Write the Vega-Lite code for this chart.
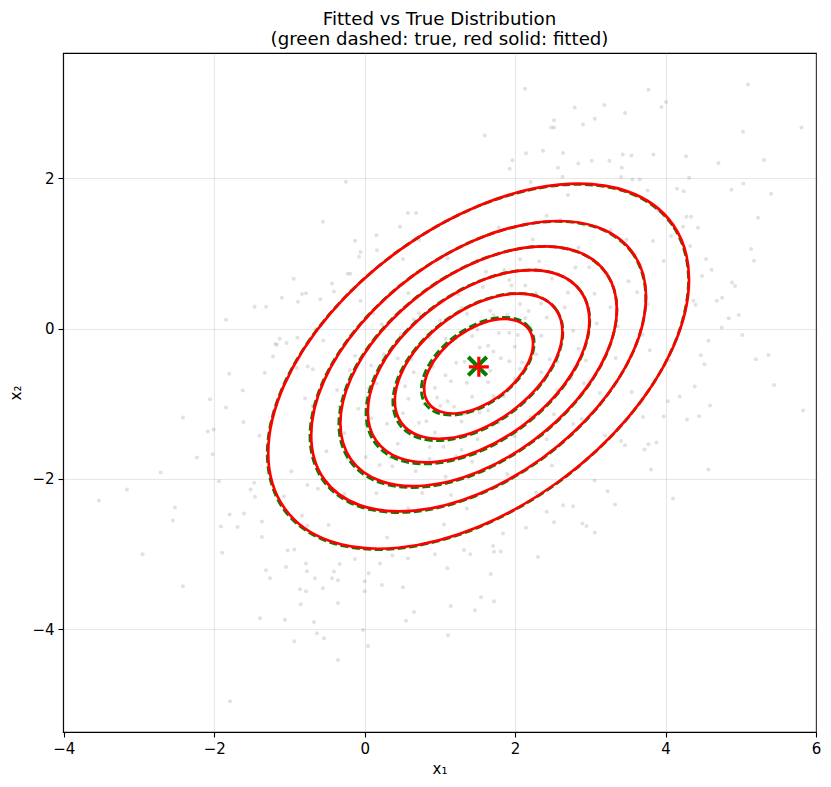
{
  "$schema": "https://vega.github.io/schema/vega-lite/v6.json",
  "width": 753,
  "height": 679,
  "autosize": {"type": "none"},
  "padding": {"left": 63, "top": 53, "right": 15, "bottom": 55},
  "background": "white",
  "config": {
    "view": {"stroke": "black", "strokeWidth": 1.1},
    "font": "DejaVu Sans",
    "axis": {
      "labelFont": "DejaVu Sans", "labelFontSize": 15, "labelColor": "black",
      "tickColor": "black", "tickSize": 5, "tickWidth": 1.1, "labelPadding": 4,
      "titleFont": "DejaVu Sans", "titleFontSize": 15, "titleFontWeight": "normal", "titleColor": "black",
      "domain": false, "grid": true, "gridColor": "#b0b0b0", "gridOpacity": 0.3, "gridWidth": 1.1,
      "labelFlush": false, "labelOverlap": false
    }
  },
  "title": {
    "text": ["Fitted vs True Distribution", "(green dashed: true, red solid: fitted)"],
    "font": "DejaVu Sans", "fontSize": 18.2, "fontWeight": "normal", "color": "black",
    "anchor": "middle", "lineHeight": 20, "offset": 4
  },
  "datasets": {
    "samples": [
      {"x":-0.25,"y":1.955},{"x":-0.555,"y":1.423},{"x":0.576,"y":1.54},{"x":0.683,"y":1.54},{"x":0.47,"y":1.356},{"x":0.155,"y":1.245},{"x":-0.128,"y":1.17},{"x":0.164,"y":1.045},{"x":-0.075,"y":0.957},{"x":-0.226,"y":0.731},{"x":-0.19,"y":0.731},{"x":-0.944,"y":0.665},{"x":-0.434,"y":0.602},{"x":-0.834,"y":0.46},{"x":-0.78,"y":0.47},{"x":-1.1,"y":0.412},{"x":-0.59,"y":0.393},{"x":-0.887,"y":0.359},{"x":-1.463,"y":0.293},{"x":-1.31,"y":0.293},{"x":-1.844,"y":0.12},{"x":-1.13,"y":-0.133},{"x":-1.166,"y":-0.213},{"x":-1.04,"y":-0.19},{"x":-1.219,"y":-0.372},{"x":-0.895,"y":-0.12},{"x":-1.8,"y":-0.6},{"x":-1.62,"y":-0.824},{"x":-0.758,"y":-0.505},{"x":-0.69,"y":-0.54},
      {"x":2.132,"y":3.195},{"x":3.772,"y":3.182},{"x":5.097,"y":3.249},{"x":4.007,"y":3.019},{"x":3.945,"y":2.952},{"x":2.793,"y":2.943},{"x":3.187,"y":2.979},{"x":3.462,"y":2.872},{"x":3.059,"y":2.793},{"x":2.903,"y":2.717},{"x":2.518,"y":2.774},{"x":2.518,"y":2.677},{"x":2.48,"y":2.677},{"x":1.596,"y":2.571},{"x":5.03,"y":2.62},{"x":5.807,"y":2.677},{"x":2.145,"y":2.335},{"x":2.371,"y":2.367},{"x":2.637,"y":2.34},{"x":3.019,"y":2.234},{"x":3.254,"y":2.234},{"x":3.431,"y":2.318},{"x":3.546,"y":2.304},{"x":3.839,"y":2.318},{"x":4.273,"y":2.295},{"x":4.703,"y":2.207},{"x":5.31,"y":2.247},{"x":1.964,"y":2.242},{"x":1.928,"y":2.13},{"x":2.571,"y":2.141},{"x":2.841,"y":2.198},{"x":3.418,"y":2.141},{"x":3.56,"y":1.985},{"x":3.657,"y":1.985},{"x":4.313,"y":2.008},{"x":4.242,"y":1.83},{"x":4.153,"y":1.862},{"x":4.876,"y":1.848},{"x":5.403,"y":1.795},{"x":5.23,"y":1.476},{"x":4.432,"y":1.343},{"x":4.233,"y":1.356},{"x":4.278,"y":1.489},{"x":4.34,"y":1.489},{"x":5.137,"y":1.059},{"x":5.177,"y":0.904},{"x":4.539,"y":0.926},{"x":4.884,"y":0.616},{"x":4.924,"y":0.567},{"x":4.681,"y":0.372},{"x":4.485,"y":0.7},{"x":4.371,"y":0.372},{"x":4.84,"y":0.137},{"x":4.973,"y":0.181},{"x":4.747,"y":0.017},{"x":4.57,"y":-0.16},{"x":5.02,"y":-0.085},{"x":5.2,"y":-0.408},{"x":5.368,"y":-0.35},{"x":4.517,"y":-0.475},{"x":4.388,"y":-0.771},{"x":5.443,"y":-0.75},
      {"x":-2.057,"y":-0.94},{"x":-1.844,"y":-1.05},{"x":-2.416,"y":-1.184},{"x":-2.084,"y":-1.37},{"x":-2.008,"y":-1.343},{"x":-2.23,"y":-1.715},{"x":-2.021,"y":-1.672},{"x":-2.713,"y":-1.915},{"x":-3.16,"y":-2.141},{"x":-3.533,"y":-2.287},{"x":-2.523,"y":-2.38},{"x":-2.549,"y":-2.553},{"x":-2.952,"y":-3.005},{"x":-2.416,"y":-3.431},{"x":-1.937,"y":-2.03},{"x":-1.91,"y":-2.633},{"x":-1.795,"y":-2.473},{"x":-1.689,"y":-2.642},{"x":-1.605,"y":-2.46},{"x":-1.516,"y":-2.141},{"x":-1.458,"y":-2.239},{"x":-1.366,"y":-2.566},{"x":-1.366,"y":-2.775},{"x":-1.312,"y":-3.218},{"x":-1.259,"y":-3.324},{"x":-1.392,"y":-3.856},{"x":-1.06,"y":-3.875},{"x":-0.86,"y":-3.471},{"x":-0.78,"y":-3.497},{"x":-0.935,"y":-4.162},{"x":-0.674,"y":-3.906},{"x":-0.634,"y":-4.056},{"x":-0.541,"y":-4.122},{"x":-0.355,"y":-3.653},{"x":-0.355,"y":-4.411},{"x":-0.434,"y":-3.324},{"x":-0.355,"y":-3.351},{"x":-0.555,"y":-3.457},{"x":-0.661,"y":-3.324},{"x":-0.767,"y":-3.231},{"x":-0.78,"y":-3.125},{"x":-1.024,"y":-2.952},{"x":-0.935,"y":-2.939},{"x":-1.791,"y":-4.96},{"x":0.0,"y":-3.364},{"x":0.0,"y":-3.497},{"x":-0.022,"y":-4.012},{"x":0.044,"y":-4.225},{"x":0.204,"y":-3.125},{"x":0.053,"y":-3.258},{"x":0.23,"y":-3.414},{"x":0.509,"y":-3.444},{"x":0.656,"y":-3.773},{"x":0.549,"y":-3.888},{"x":0.576,"y":-3.059},{"x":-0.129,"y":-3.068},{"x":-0.332,"y":-3.134},{"x":-0.85,"y":-3.67},
      {"x":4.033,"y":-0.967},{"x":4.592,"y":-1.024},{"x":5.829,"y":-1.09},{"x":4.286,"y":-1.21},{"x":4.446,"y":-1.166},{"x":3.976,"y":-1.17},{"x":3.879,"y":-1.516},{"x":3.773,"y":-1.539},{"x":3.72,"y":-1.609},{"x":3.807,"y":-1.875},{"x":4.57,"y":-1.875},{"x":4.1,"y":-2.261},{"x":3.461,"y":-1.552},{"x":3.7,"y":-1.175},{"x":3.231,"y":-2.164},{"x":3.329,"y":-2.34},{"x":3.059,"y":-2.713},{"x":2.895,"y":-2.593},{"x":2.948,"y":-2.629},{"x":2.77,"y":-2.363},{"x":2.637,"y":-2.35},{"x":2.518,"y":-2.576},{"x":2.305,"y":-3.041},{"x":2.145,"y":-2.651},{"x":1.809,"y":-2.966},{"x":1.72,"y":-2.97},{"x":1.707,"y":-2.895},{"x":1.676,"y":-3.267},{"x":1.321,"y":-2.948},{"x":1.405,"y":-3.005},{"x":1.1,"y":-3.191},{"x":1.547,"y":-3.577},{"x":1.72,"y":-3.63},{"x":1.467,"y":-3.75},{"x":1.144,"y":-3.693},{"x":1.108,"y":-4.082},{"x":1.839,"y":-2.726},{"x":2.42,"y":-2.439},{"x":1.055,"y":-2.606},
      {"x":1.641,"y":-0.226},{"x":1.076,"y":-0.134},{"x":2.348,"y":-0.582},{"x":0.51,"y":-1.125},{"x":3.055,"y":0.466},{"x":-0.197,"y":-0.552},{"x":2.066,"y":0.923},{"x":1.217,"y":-1.698},{"x":2.773,"y":-1.271},{"x":0.227,"y":0.055},{"x":3.762,"y":0.326},{"x":-0.621,"y":-2.133},{"x":1.571,"y":-0.579},{"x":1.924,"y":-0.433},{"x":0.793,"y":-0.684},{"x":2.49,"y":0.666},{"x":0.934,"y":-1.383},{"x":3.338,"y":-0.39},{"x":0.086,"y":-1.192},{"x":1.783,"y":1.347},{"x":1.359,"y":-2.396},{"x":4.328,"y":1.1},{"x":-1.469,"y":-2.05},{"x":2.631,"y":0.075},{"x":0.652,"y":0.123},{"x":2.207,"y":-1.181},{"x":0.369,"y":-1.832},{"x":2.914,"y":1.381},{"x":-0.338,"y":-1.043},{"x":3.48,"y":1.183},
      {"x":1.429,"y":-0.097},{"x":1.854,"y":-0.895},{"x":1.005,"y":-1.028},{"x":2.136,"y":0.141},{"x":1.288,"y":0.277},{"x":1.712,"y":-1.817},{"x":4.045,"y":-0.422},{"x":-0.904,"y":-0.52},{"x":2.419,"y":1.502},{"x":0.581,"y":-2.393},{"x":3.197,"y":-1.421},{"x":-0.055,"y":0.371},{"x":1.995,"y":-0.242},{"x":1.147,"y":-0.7},{"x":2.278,"y":0.47},{"x":0.864,"y":-1.736},{"x":2.843,"y":-0.269},{"x":0.157,"y":-0.731},{"x":3.621,"y":0.484},{"x":-0.48,"y":-2.615},{"x":1.641,"y":-1.091},{"x":1.359,"y":0.199},{"x":2.561,"y":-0.819},{"x":0.44,"y":-0.397},{"x":1.783,"y":-0.059},{"x":0.722,"y":-1.253},{"x":2.985,"y":0.816},{"x":0.015,"y":-1.708},{"x":1.5,"y":0.905},{"x":1.5,"y":-1.473},
      {"x":4.752,"y":0.411},{"x":-1.611,"y":-1.244},{"x":2.207,"y":1.954},{"x":0.934,"y":-3.004},{"x":3.904,"y":1.574},{"x":-0.762,"y":-2.623},{"x":4.187,"y":-0.903},{"x":-1.187,"y":-0.205},{"x":1.924,"y":0.648},{"x":1.076,"y":-1.972},{"x":2.702,"y":0.482},{"x":0.298,"y":-1.266},{"x":2.066,"y":-0.536},{"x":1.217,"y":-0.455},{"x":1.712,"y":0.183},{"x":0.652,"y":-0.58},{"x":2.348,"y":-0.096},{"x":1.429,"y":-0.907},{"x":3.268,"y":0.284},{"x":-0.268,"y":-1.392},{"x":2.49,"y":-1.821},{"x":0.51,"y":0.929},{"x":3.409,"y":2.018},{"x":-0.409,"y":-3.234},{"x":2.773,"y":-0.028},{"x":0.864,"y":-0.114},{"x":1.641,"y":-0.712},{"x":1.288,"y":-1.237},{"x":2.278,"y":-0.341},{"x":1.005,"y":-0.326},
      {"x":5.035,"y":1.933},{"x":-1.894,"y":-2.983},{"x":3.055,"y":-2.02},{"x":-0.055,"y":1.02},{"x":1.854,"y":0.781},{"x":1.147,"y":-2.213},{"x":3.692,"y":-0.081},{"x":-0.692,"y":-1.027},{"x":2.631,"y":2.021},{"x":0.369,"y":-3.021},{"x":2.136,"y":-0.94},{"x":0.722,"y":0.206},{"x":3.126,"y":-0.855},{"x":-0.126,"y":-0.361},{"x":1.571,"y":0.556},{"x":1.429,"y":-1.772},{"x":1.995,"y":-1.431},{"x":1.005,"y":0.647},{"x":3.55,"y":-0.842},{"x":-0.55,"y":-0.158},{"x":2.419,"y":0.15},{"x":0.581,"y":-0.934},{"x":1.783,"y":-1.248},{"x":1.217,"y":-0.131},{"x":3.975,"y":0.9},{"x":-0.975,"y":-1.9},{"x":4.469,"y":-0.355},{"x":-1.328,"y":-0.587},{"x":2.843,"y":1.082},{"x":0.157,"y":-2.19},
      {"x":3.268,"y":1.311},{"x":-0.268,"y":-2.203},{"x":2.066,"y":0.329},{"x":0.934,"y":-0.788},{"x":2.561,"y":-0.44},{"x":0.44,"y":-1.533},{"x":1.5,"y":-0.014},{"x":1.924,"y":-0.055},{"x":1.359,"y":-0.72},{"x":2.207,"y":0.008},{"x":0.793,"y":-1.008},{"x":1.712,"y":-0.898},{"x":1.076,"y":-0.621},{"x":2.348,"y":0.336},{"x":2.914,"y":-0.727},{"x":0.086,"y":-0.489},{"x":3.762,"y":1.839},{"x":-0.762,"y":-2.083},{"x":4.611,"y":0.785},{"x":-1.045,"y":-3.173},
      {"x":1.67,"y":0.24},{"x":1.189,"y":-1.039},{"x":2.094,"y":-0.45},{"x":0.623,"y":-0.408},{"x":2.659,"y":0.282},{"x":0.341,"y":-1.714},{"x":1.952,"y":0.573},{"x":1.048,"y":-1.573},{"x":2.942,"y":-0.423},{"x":0.058,"y":-0.793},{"x":1.528,"y":-1.115},{"x":1.811,"y":-0.394},{"x":0.906,"y":-0.507},{"x":2.518,"y":-1.139},{"x":0.482,"y":-0.077},{"x":3.225,"y":0.731},{"x":-0.225,"y":-1.731},{"x":2.235,"y":1.188},{"x":0.765,"y":-2.188},{"x":3.791,"y":-0.289},
      {"x":-0.791,"y":-0.927},{"x":1.613,"y":0.758},{"x":1.387,"y":-1.974},{"x":2.377,"y":-0.7},{"x":1.245,"y":0.454},{"x":1.755,"y":-1.238},{"x":2.801,"y":0.815},{"x":0.199,"y":-1.815},{"x":3.366,"y":0.033},{"x":-0.366,"y":-0.817},{"x":2.037,"y":-0.083},{"x":0.963,"y":-0.917},{"x":2.32,"y":0.898},{"x":0.68,"y":-1.898},{"x":1.896,"y":-1.936},{"x":1.104,"y":0.936},{"x":3.084,"y":0.068},{"x":-0.084,"y":-1.068},{"x":2.179,"y":0.234},{"x":0.821,"y":-1.234},
      {"x":2.744,"y":-0.656},{"x":0.256,"y":-0.344},{"x":3.508,"y":0.632},{"x":-0.508,"y":-1.632},{"x":1.528,"y":-0.25},{"x":1.33,"y":-1.132},{"x":2.462,"y":-0.406},{"x":0.538,"y":-0.767},{"x":1.896,"y":0.183},{"x":1.104,"y":-0.967},{"x":4.073,"y":1.233},{"x":-1.073,"y":-2.233},{"x":3.649,"y":-0.996},{"x":-0.649,"y":-0.004},{"x":2.603,"y":1.448},{"x":0.397,"y":-2.448},{"x":2.886,"y":-1.204},{"x":0.114,"y":0.204},{"x":1.67,"y":-0.56},{"x":1.33,"y":-0.44},
      {"x":2.136,"y":0.574},{"x":0.864,"y":-1.574},{"x":2.985,"y":0.275},{"x":0.015,"y":-1.275},{"x":2.419,"y":-1.471},{"x":0.581,"y":0.471},{"x":1.995,"y":-0.674},{"x":1.005,"y":0.107},{"x":1.712,"y":-0.304},{"x":1.288,"y":-1.615},{"x":3.833,"y":1.167},{"x":-0.833,"y":-2.491},{"x":4.399,"y":0.319},{"x":-1.399,"y":-1.427},{"x":2.702,"y":1.78},{"x":0.298,"y":-2.78},{"x":2.278,"y":-2.179},{"x":0.722,"y":1.179},{"x":3.409,"y":-1.496},{"x":-0.409,"y":0.496}
    ],
    "trueContours": [
      {"ring":1,"k":0,"x":4.305,"y":0.646},{"ring":1,"k":1,"x":4.092,"y":1.377},{"ring":1,"k":2,"x":3.485,"y":1.82},{"ring":1,"k":3,"x":2.577,"y":1.909},{"ring":1,"k":4,"x":1.505,"y":1.629},{"ring":1,"k":5,"x":0.433,"y":1.024},{"ring":1,"k":6,"x":-0.475,"y":0.185},{"ring":1,"k":7,"x":-1.082,"y":-0.76},{"ring":1,"k":8,"x":-1.295,"y":-1.666},{"ring":1,"k":9,"x":-1.082,"y":-2.397},{"ring":1,"k":10,"x":-0.475,"y":-2.84},{"ring":1,"k":11,"x":0.433,"y":-2.929},{"ring":1,"k":12,"x":1.505,"y":-2.649},{"ring":1,"k":13,"x":2.577,"y":-2.044},{"ring":1,"k":14,"x":3.485,"y":-1.205},{"ring":1,"k":15,"x":4.092,"y":-0.26},
      {"ring":2,"k":0,"x":3.737,"y":0.412},{"ring":2,"k":1,"x":3.567,"y":0.994},{"ring":2,"k":2,"x":3.083,"y":1.348},{"ring":2,"k":3,"x":2.359,"y":1.418},{"ring":2,"k":4,"x":1.505,"y":1.195},{"ring":2,"k":5,"x":0.651,"y":0.713},{"ring":2,"k":6,"x":-0.073,"y":0.044},{"ring":2,"k":7,"x":-0.557,"y":-0.709},{"ring":2,"k":8,"x":-0.727,"y":-1.432},{"ring":2,"k":9,"x":-0.557,"y":-2.014},{"ring":2,"k":10,"x":-0.073,"y":-2.368},{"ring":2,"k":11,"x":0.651,"y":-2.438},{"ring":2,"k":12,"x":1.505,"y":-2.215},{"ring":2,"k":13,"x":2.359,"y":-1.733},{"ring":2,"k":14,"x":3.083,"y":-1.064},{"ring":2,"k":15,"x":3.567,"y":-0.311},
      {"ring":3,"k":0,"x":3.353,"y":0.253},{"ring":3,"k":1,"x":3.212,"y":0.736},{"ring":3,"k":2,"x":2.812,"y":1.028},{"ring":3,"k":3,"x":2.212,"y":1.087},{"ring":3,"k":4,"x":1.505,"y":0.902},{"ring":3,"k":5,"x":0.798,"y":0.502},{"ring":3,"k":6,"x":0.198,"y":-0.051},{"ring":3,"k":7,"x":-0.202,"y":-0.675},{"ring":3,"k":8,"x":-0.343,"y":-1.273},{"ring":3,"k":9,"x":-0.202,"y":-1.756},{"ring":3,"k":10,"x":0.198,"y":-2.048},{"ring":3,"k":11,"x":0.798,"y":-2.107},{"ring":3,"k":12,"x":1.505,"y":-1.922},{"ring":3,"k":13,"x":2.212,"y":-1.522},{"ring":3,"k":14,"x":2.812,"y":-0.969},{"ring":3,"k":15,"x":3.212,"y":-0.345},
      {"ring":4,"k":0,"x":2.992,"y":0.104},{"ring":4,"k":1,"x":2.879,"y":0.492},{"ring":4,"k":2,"x":2.556,"y":0.728},{"ring":4,"k":3,"x":2.074,"y":0.775},{"ring":4,"k":4,"x":1.505,"y":0.626},{"ring":4,"k":5,"x":0.936,"y":0.305},{"ring":4,"k":6,"x":0.454,"y":-0.141},{"ring":4,"k":7,"x":0.131,"y":-0.643},{"ring":4,"k":8,"x":0.018,"y":-1.124},{"ring":4,"k":9,"x":0.131,"y":-1.512},{"ring":4,"k":10,"x":0.454,"y":-1.748},{"ring":4,"k":11,"x":0.936,"y":-1.795},{"ring":4,"k":12,"x":1.505,"y":-1.646},{"ring":4,"k":13,"x":2.074,"y":-1.325},{"ring":4,"k":14,"x":2.556,"y":-0.879},{"ring":4,"k":15,"x":2.879,"y":-0.377},
      {"ring":5,"k":0,"x":2.635,"y":-0.043},{"ring":5,"k":1,"x":2.549,"y":0.252},{"ring":5,"k":2,"x":2.304,"y":0.431},{"ring":5,"k":3,"x":1.937,"y":0.466},{"ring":5,"k":4,"x":1.505,"y":0.353},{"ring":5,"k":5,"x":1.073,"y":0.109},{"ring":5,"k":6,"x":0.706,"y":-0.23},{"ring":5,"k":7,"x":0.461,"y":-0.611},{"ring":5,"k":8,"x":0.375,"y":-0.977},{"ring":5,"k":9,"x":0.461,"y":-1.272},{"ring":5,"k":10,"x":0.706,"y":-1.451},{"ring":5,"k":11,"x":1.073,"y":-1.486},{"ring":5,"k":12,"x":1.505,"y":-1.373},{"ring":5,"k":13,"x":1.937,"y":-1.129},{"ring":5,"k":14,"x":2.304,"y":-0.79},{"ring":5,"k":15,"x":2.549,"y":-0.409},
      {"ring":6,"k":0,"x":2.253,"y":-0.19},{"ring":6,"k":1,"x":2.196,"y":0.006},{"ring":6,"k":2,"x":2.033,"y":0.124},{"ring":6,"k":3,"x":1.79,"y":0.148},{"ring":6,"k":4,"x":1.503,"y":0.073},{"ring":6,"k":5,"x":1.216,"y":-0.089},{"ring":6,"k":6,"x":0.973,"y":-0.314},{"ring":6,"k":7,"x":0.81,"y":-0.567},{"ring":6,"k":8,"x":0.753,"y":-0.81},{"ring":6,"k":9,"x":0.81,"y":-1.006},{"ring":6,"k":10,"x":0.973,"y":-1.124},{"ring":6,"k":11,"x":1.216,"y":-1.148},{"ring":6,"k":12,"x":1.503,"y":-1.073},{"ring":6,"k":13,"x":1.79,"y":-0.911},{"ring":6,"k":14,"x":2.033,"y":-0.686},{"ring":6,"k":15,"x":2.196,"y":-0.433}
    ],
    "fittedContours": [
      {"ring":1,"k":0,"x":4.312,"y":0.655},{"ring":1,"k":1,"x":4.099,"y":1.385},{"ring":1,"k":2,"x":3.493,"y":1.828},{"ring":1,"k":3,"x":2.585,"y":1.917},{"ring":1,"k":4,"x":1.515,"y":1.637},{"ring":1,"k":5,"x":0.445,"y":1.032},{"ring":1,"k":6,"x":-0.463,"y":0.194},{"ring":1,"k":7,"x":-1.069,"y":-0.749},{"ring":1,"k":8,"x":-1.282,"y":-1.655},{"ring":1,"k":9,"x":-1.069,"y":-2.385},{"ring":1,"k":10,"x":-0.463,"y":-2.828},{"ring":1,"k":11,"x":0.445,"y":-2.917},{"ring":1,"k":12,"x":1.515,"y":-2.637},{"ring":1,"k":13,"x":2.585,"y":-2.032},{"ring":1,"k":14,"x":3.493,"y":-1.194},{"ring":1,"k":15,"x":4.099,"y":-0.251},
      {"ring":2,"k":0,"x":3.741,"y":0.419},{"ring":2,"k":1,"x":3.572,"y":1.0},{"ring":2,"k":2,"x":3.089,"y":1.353},{"ring":2,"k":3,"x":2.367,"y":1.423},{"ring":2,"k":4,"x":1.515,"y":1.201},{"ring":2,"k":5,"x":0.663,"y":0.719},{"ring":2,"k":6,"x":-0.059,"y":0.052},{"ring":2,"k":7,"x":-0.542,"y":-0.699},{"ring":2,"k":8,"x":-0.711,"y":-1.419},{"ring":2,"k":9,"x":-0.542,"y":-2.0},{"ring":2,"k":10,"x":-0.059,"y":-2.353},{"ring":2,"k":11,"x":0.663,"y":-2.423},{"ring":2,"k":12,"x":1.515,"y":-2.201},{"ring":2,"k":13,"x":2.367,"y":-1.719},{"ring":2,"k":14,"x":3.089,"y":-1.052},{"ring":2,"k":15,"x":3.572,"y":-0.301},
      {"ring":3,"k":0,"x":3.353,"y":0.259},{"ring":3,"k":1,"x":3.213,"y":0.739},{"ring":3,"k":2,"x":2.815,"y":1.03},{"ring":3,"k":3,"x":2.218,"y":1.088},{"ring":3,"k":4,"x":1.515,"y":0.904},{"ring":3,"k":5,"x":0.812,"y":0.507},{"ring":3,"k":6,"x":0.215,"y":-0.044},{"ring":3,"k":7,"x":-0.183,"y":-0.664},{"ring":3,"k":8,"x":-0.323,"y":-1.259},{"ring":3,"k":9,"x":-0.183,"y":-1.739},{"ring":3,"k":10,"x":0.215,"y":-2.03},{"ring":3,"k":11,"x":0.812,"y":-2.088},{"ring":3,"k":12,"x":1.515,"y":-1.904},{"ring":3,"k":13,"x":2.218,"y":-1.507},{"ring":3,"k":14,"x":2.815,"y":-0.956},{"ring":3,"k":15,"x":3.213,"y":-0.336},
      {"ring":4,"k":0,"x":2.988,"y":0.108},{"ring":4,"k":1,"x":2.876,"y":0.493},{"ring":4,"k":2,"x":2.557,"y":0.726},{"ring":4,"k":3,"x":2.079,"y":0.773},{"ring":4,"k":4,"x":1.515,"y":0.625},{"ring":4,"k":5,"x":0.951,"y":0.307},{"ring":4,"k":6,"x":0.473,"y":-0.134},{"ring":4,"k":7,"x":0.154,"y":-0.631},{"ring":4,"k":8,"x":0.042,"y":-1.108},{"ring":4,"k":9,"x":0.154,"y":-1.493},{"ring":4,"k":10,"x":0.473,"y":-1.726},{"ring":4,"k":11,"x":0.951,"y":-1.773},{"ring":4,"k":12,"x":1.515,"y":-1.625},{"ring":4,"k":13,"x":2.079,"y":-1.307},{"ring":4,"k":14,"x":2.557,"y":-0.866},{"ring":4,"k":15,"x":2.876,"y":-0.369},
      {"ring":5,"k":0,"x":2.629,"y":-0.04},{"ring":5,"k":1,"x":2.544,"y":0.251},{"ring":5,"k":2,"x":2.303,"y":0.427},{"ring":5,"k":3,"x":1.941,"y":0.462},{"ring":5,"k":4,"x":1.515,"y":0.351},{"ring":5,"k":5,"x":1.089,"y":0.11},{"ring":5,"k":6,"x":0.727,"y":-0.224},{"ring":5,"k":7,"x":0.486,"y":-0.599},{"ring":5,"k":8,"x":0.401,"y":-0.96},{"ring":5,"k":9,"x":0.486,"y":-1.251},{"ring":5,"k":10,"x":0.727,"y":-1.427},{"ring":5,"k":11,"x":1.089,"y":-1.462},{"ring":5,"k":12,"x":1.515,"y":-1.351},{"ring":5,"k":13,"x":1.941,"y":-1.11},{"ring":5,"k":14,"x":2.303,"y":-0.776},{"ring":5,"k":15,"x":2.544,"y":-0.401},
      {"ring":6,"k":0,"x":2.239,"y":-0.201},{"ring":6,"k":1,"x":2.184,"y":-0.012},{"ring":6,"k":2,"x":2.027,"y":0.103},{"ring":6,"k":3,"x":1.792,"y":0.126},{"ring":6,"k":4,"x":1.515,"y":0.053},{"ring":6,"k":5,"x":1.238,"y":-0.103},{"ring":6,"k":6,"x":1.003,"y":-0.32},{"ring":6,"k":7,"x":0.846,"y":-0.565},{"ring":6,"k":8,"x":0.791,"y":-0.799},{"ring":6,"k":9,"x":0.846,"y":-0.988},{"ring":6,"k":10,"x":1.003,"y":-1.103},{"ring":6,"k":11,"x":1.238,"y":-1.126},{"ring":6,"k":12,"x":1.515,"y":-1.053},{"ring":6,"k":13,"x":1.792,"y":-0.897},{"ring":6,"k":14,"x":2.027,"y":-0.68},{"ring":6,"k":15,"x":2.184,"y":-0.435}
    ],
    "trueMean": [{"x":1.5,"y":-0.5}],
    "fittedMean": [{"x":1.518,"y":-0.508}]
  },
  "encoding": {
    "x": {
      "field": "x", "type": "quantitative",
      "scale": {"domain": [-4.01, 6.0], "nice": false, "zero": false},
      "axis": {"values": [-4, -2, 0, 2, 4, 6], "title": "x₁", "titlePadding": 5}
    },
    "y": {
      "field": "y", "type": "quantitative",
      "scale": {"domain": [-5.37, 3.67], "nice": false, "zero": false},
      "axis": {"values": [-4, -2, 0, 2], "title": "x₂", "titlePadding": 8}
    }
  },
  "layer": [
    {
      "data": {"name": "samples"},
      "mark": {"type": "circle", "color": "#808080", "opacity": 0.24, "size": 16}
    },
    {
      "data": {"name": "trueContours"},
      "mark": {"type": "line", "color": "#008000", "strokeWidth": 2.8, "strokeDash": [8, 3.5], "interpolate": "cardinal-closed"},
      "encoding": {
        "detail": {"field": "ring", "type": "nominal"},
        "order": {"field": "k", "type": "quantitative"}
      }
    },
    {
      "data": {"name": "fittedContours"},
      "mark": {"type": "line", "color": "#ff0000", "strokeWidth": 2.7, "interpolate": "cardinal-closed"},
      "encoding": {
        "detail": {"field": "ring", "type": "nominal"},
        "order": {"field": "k", "type": "quantitative"}
      }
    },
    {
      "data": {"name": "trueMean"},
      "mark": {"type": "point", "shape": "M-1,-1L1,1M-1,1L1,-1", "filled": false, "stroke": "#008000", "strokeWidth": 4, "size": 340, "opacity": 1, "strokeCap": "butt"}
    },
    {
      "data": {"name": "fittedMean"},
      "mark": {"type": "point", "shape": "M-1,0L1,0M0,-1L0,1", "filled": false, "stroke": "#ff0000", "strokeWidth": 3.2, "size": 400, "opacity": 1, "strokeCap": "butt"}
    }
  ]
}
